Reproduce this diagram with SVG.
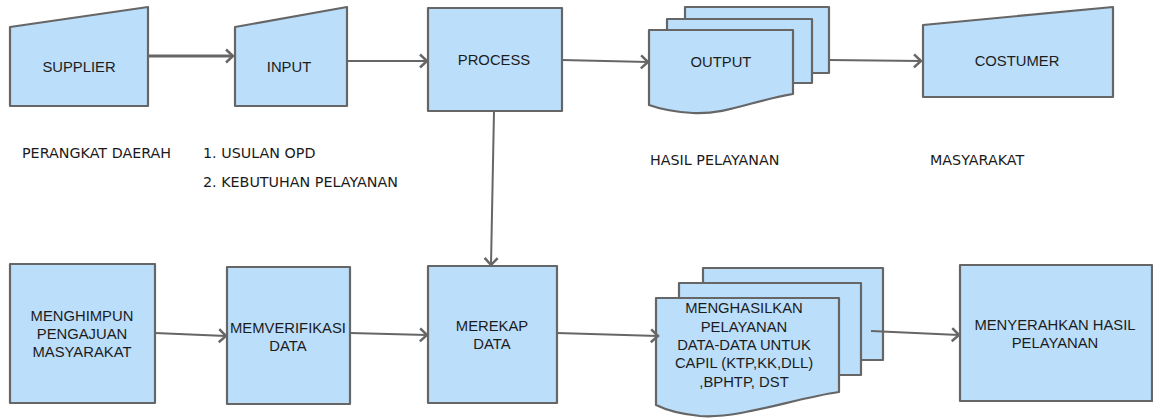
<svg xmlns="http://www.w3.org/2000/svg" width="1153" height="418" viewBox="0 0 1153 418">
  <defs>
    <marker id="arrow" markerUnits="userSpaceOnUse" markerWidth="20" markerHeight="20" viewBox="-10 -10 20 20" refX="0" refY="0" orient="auto" overflow="visible">
      <path d="M-7,-6.5 L0,0 L-7,6.5" fill="none" stroke="#676767" stroke-width="2.5" stroke-linejoin="miter"/>
    </marker>
    <style>
      .shape { fill: #bbdefb; stroke: #666666; stroke-width: 2.2; stroke-linejoin: round; }
      .label { font-family: "Liberation Sans", Arial, sans-serif; font-size: 14.8px; fill: #1c1c1c; text-anchor: middle; }
      .note { font-family: "DejaVu Sans", Verdana, sans-serif; font-size: 14.3px; fill: #1a1a1a; }
      .link { fill: none; stroke: #666666; stroke-width: 2; marker-end: url(#arrow); }
      .link.thick { stroke-width: 3; }
    </style>
  </defs>
  <rect width="1153" height="418" fill="#ffffff"/>

  <!-- top row: SIPOC chain -->
  <g id="supplier">
    <polygon class="shape" points="10,27 148,7 148,106 10,106"/>
    <text class="label" x="79" y="72">SUPPLIER</text>
  </g>
  <g id="input">
    <polygon class="shape" points="235,27 347,7 347,106 235,106"/>
    <text class="label" x="289" y="72">INPUT</text>
  </g>
  <g id="process">
    <rect class="shape" x="428" y="8" width="134" height="103"/>
    <text class="label" x="494" y="65">PROCESS</text>
  </g>
  <g id="output">
    <rect class="shape" x="685" y="7" width="144" height="66"/>
    <rect class="shape" x="667" y="19" width="145" height="64"/>
    <path class="shape" d="M649,30 H793 V94 C755,100 725,115 693,113 C675,112 660,109 649,105 Z"/>
    <text class="label" x="721" y="67">OUTPUT</text>
  </g>
  <g id="costumer">
    <polygon class="shape" points="923,25 1113,7 1113,97 923,97"/>
    <text class="label" x="1017" y="66">COSTUMER</text>
  </g>

  <!-- descriptions under the top row -->
  <g id="notes">
    <text class="note" x="22" y="158">PERANGKAT DAERAH</text>
    <text class="note" x="203" y="158">1. USULAN OPD</text>
    <text class="note" x="203" y="187">2. KEBUTUHAN PELAYANAN</text>
    <text class="note" x="650" y="165">HASIL PELAYANAN</text>
    <text class="note" x="930" y="165">MASYARAKAT</text>
  </g>

  <!-- bottom row: service steps -->
  <g id="menghimpun">
    <rect class="shape" x="10" y="264" width="145" height="139"/>
    <text class="label" x="82" y="321">MENGHIMPUN</text>
    <text class="label" x="82" y="339">PENGAJUAN</text>
    <text class="label" x="82" y="357">MASYARAKAT</text>
  </g>
  <g id="memverifikasi">
    <rect class="shape" x="227" y="267" width="123" height="137"/>
    <text class="label" x="288" y="333">MEMVERIFIKASI</text>
    <text class="label" x="288" y="351">DATA</text>
  </g>
  <g id="merekap">
    <rect class="shape" x="428" y="266" width="129" height="137"/>
    <text class="label" x="492" y="331">MEREKAP</text>
    <text class="label" x="492" y="349">DATA</text>
  </g>
  <g id="menghasilkan">
    <rect class="shape" x="703" y="268" width="180" height="92"/>
    <rect class="shape" x="679" y="283" width="182" height="92"/>
    <path class="shape" d="M656,298 H839 V392 C795,398 740,419 700,416 C680,414 666,410 656,405 Z"/>
    <text class="label" x="744" y="313">MENGHASILKAN</text>
    <text class="label" x="744" y="332">PELAYANAN</text>
    <text class="label" x="744" y="350">DATA-DATA UNTUK</text>
    <text class="label" x="744" y="368">CAPIL (KTP,KK,DLL)</text>
    <text class="label" x="744" y="387">,BPHTP, DST</text>
  </g>
  <g id="menyerahkan">
    <rect class="shape" x="960" y="265" width="192" height="136"/>
    <text class="label" x="1055" y="330">MENYERAHKAN HASIL</text>
    <text class="label" x="1055" y="348">PELAYANAN</text>
  </g>

  <!-- connectors -->
  <g id="connectors">
    <line class="link thick" x1="148" y1="56" x2="233" y2="56"/>
    <line class="link" x1="347" y1="61" x2="427" y2="61"/>
    <line class="link" x1="562" y1="60" x2="648" y2="62"/>
    <line class="link" x1="829" y1="60" x2="921" y2="61"/>
    <line class="link" x1="494" y1="111" x2="491" y2="265"/>
    <line class="link" x1="155" y1="333" x2="226" y2="336"/>
    <line class="link" x1="350" y1="333" x2="427" y2="335"/>
    <line class="link" x1="557" y1="333" x2="658" y2="336"/>
    <line class="link" x1="871" y1="331" x2="959" y2="335"/>
  </g>
</svg>
